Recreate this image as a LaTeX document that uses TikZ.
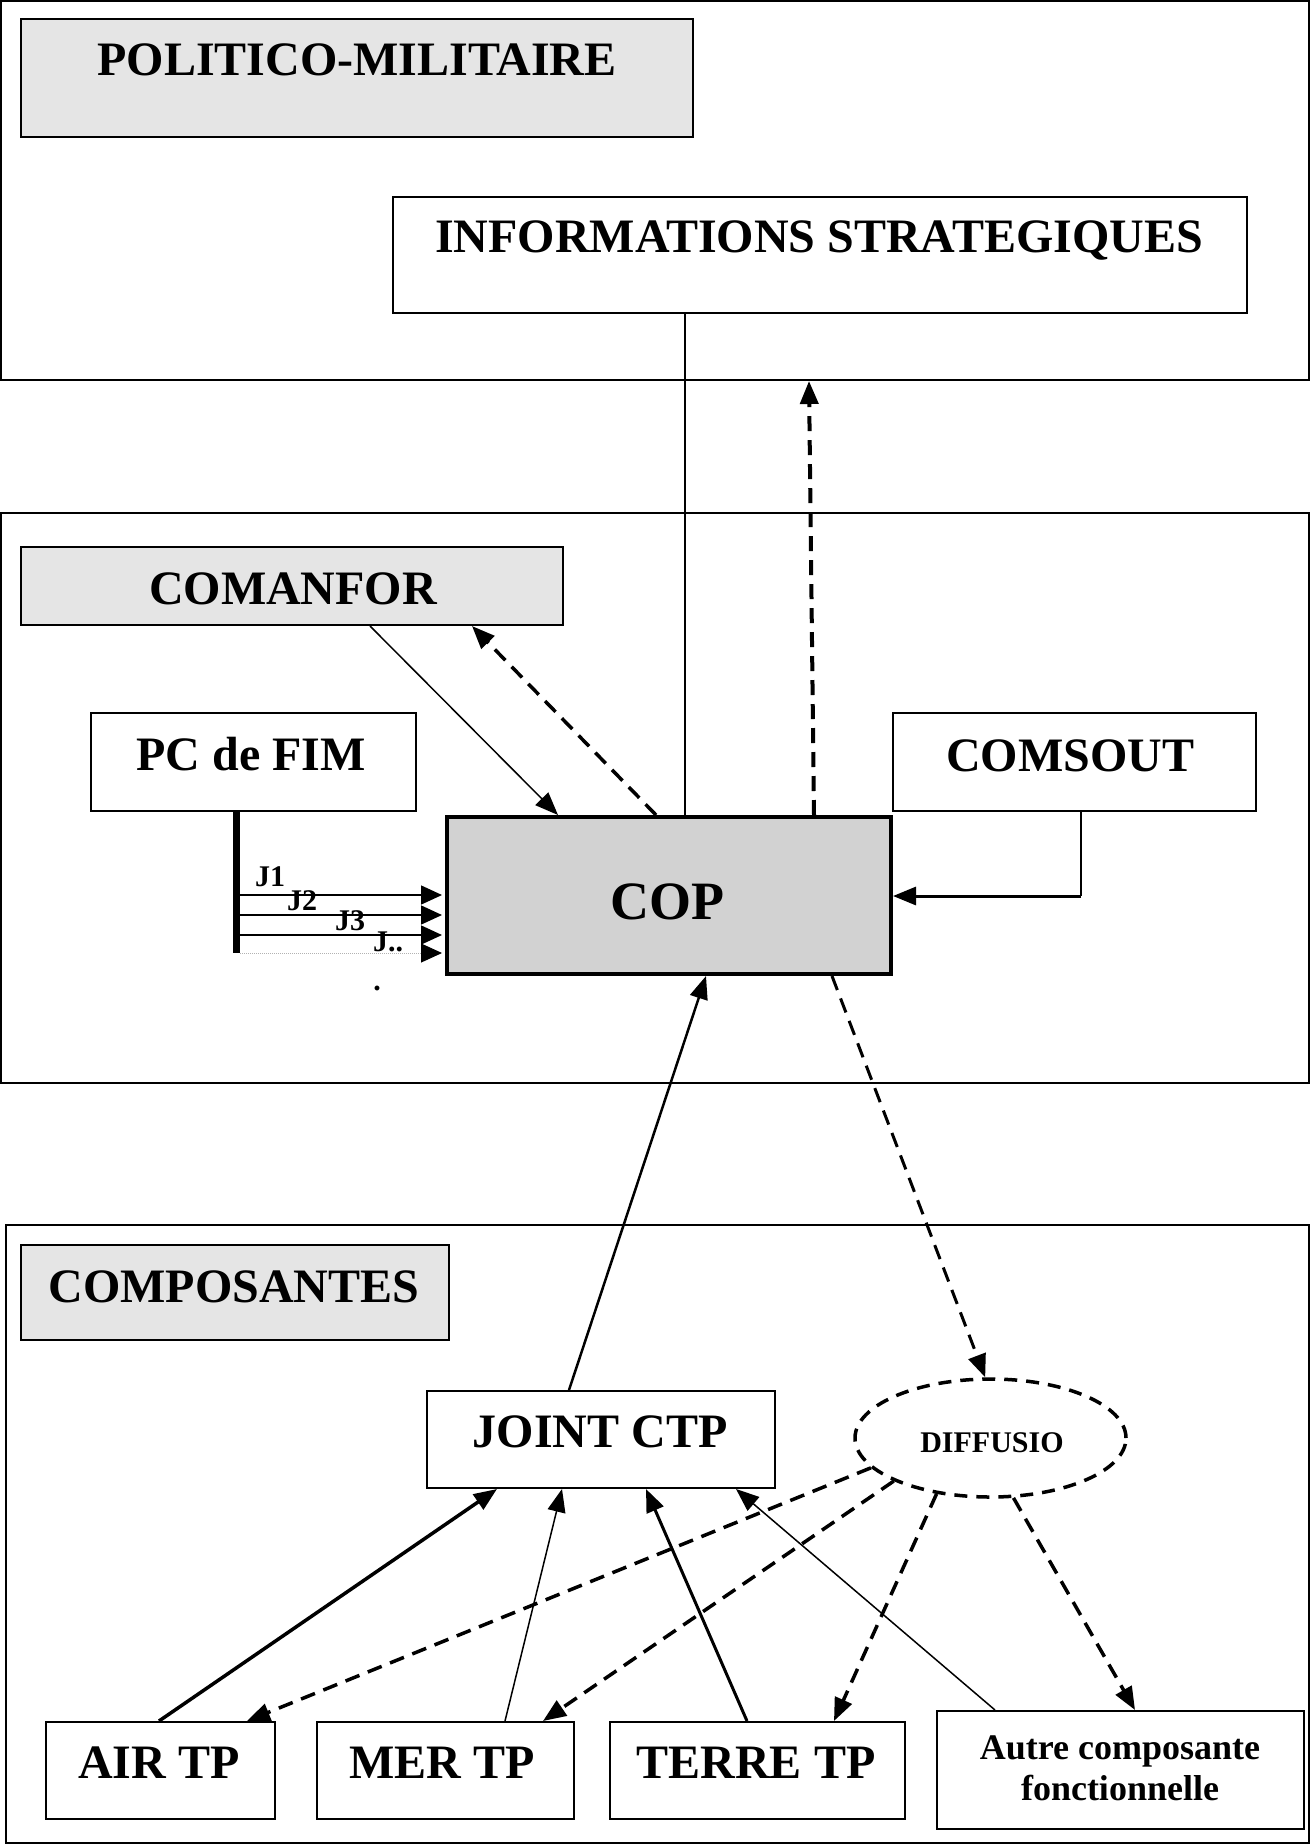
\documentclass[tikz,border=0pt]{standalone}
\usepackage{fontspec}
\setmainfont{Liberation Serif}
\usetikzlibrary{arrows.meta,shapes.geometric,fit}
\begin{document}
\begin{tikzpicture}[x=1pt,y=-1pt,
  >={Triangle[length=23pt,width=18pt]},
  region/.style={draw, line width=2pt, inner sep=0pt},
  box/.style={draw, line width=2pt, inner sep=0pt},
  hdr/.style={box, fill=gray!20},
  big/.style={font=\fontsize{48}{48}\selectfont\bfseries, anchor=base, inner sep=0pt},
  mid/.style={font=\fontsize{36}{36}\selectfont\bfseries, anchor=base, inner sep=0pt},
  small/.style={font=\fontsize{30}{30}\selectfont\bfseries, anchor=base, inner sep=0pt},
  jlab/.style={small, anchor=base west},
  dashline/.style={dash pattern=on 15pt off 9pt},
  thinline/.style={line width=1.5pt},
  jtip/.style={-{Triangle[length=21pt,width=19pt]}}
]
\useasboundingbox (0,0) rectangle (1311,1845);

% regions
\node[region, fit={(1,1) (1309,380)}] (polreg) {};
\node[region, fit={(1,513) (1309,1083)}] (comreg) {};
\node[region, fit={(6,1225) (1309,1843)}] (compreg) {};

% boxes
\node[hdr, fit={(21,19) (693,137)}] (polit) {};
\node[box, fit={(393,197) (1247,313)}] (info) {};
\node[hdr, fit={(21,547) (563,625)}] (comanfor) {};
\node[box, fit={(91,713) (416,811)}] (pcfim) {};
\node[box, fit={(893,713) (1256,811)}] (comsout) {};
\node[draw, line width=4pt, inner sep=0pt, fill=gray!35, fit={(447,817) (891,974)}] (cop) {};
\node[hdr, fit={(21,1245) (449,1340)}] (compos) {};
\node[box, fit={(427,1391) (775,1488)}] (joint) {};
\node[draw, ellipse, line width=3.5pt, dash pattern=on 13pt off 9pt, minimum width=271pt, minimum height=118pt, inner sep=0pt] (diff) at (990.5,1438) {};
\node[box, fit={(46,1722) (275,1819)}] (air) {};
\node[box, fit={(317,1722) (574,1819)}] (mer) {};
\node[box, fit={(610,1722) (905,1819)}] (terre) {};
\node[box, fit={(937,1711) (1304,1829)}] (autre) {};

% texts
\node[big] (poltxt) at (357,75) {POLITICO-MILITAIRE};
\node[big] (infotxt) at (819,252) {INFORMATIONS STRATEGIQUES};
\node[big] (comtxt) at (293,604) {COMANFOR};
\node[big] (pctxt) at (251,770) {PC de FIM};
\node[big] (cstxt) at (1070,771) {COMSOUT};
\node[big, font=\fontsize{54}{54}\selectfont\bfseries] (coptxt) at (667,919) {COP};
\node[big] (comptxt) at (234,1302) {COMPOSANTES};
\node[big] (jtxt) at (600,1447) {JOINT CTP};
\node[small] (difftxt) at (992,1452) {DIFFUSIO};
\node[big] (airtxt) at (159,1778) {AIR TP};
\node[big] (mertxt) at (442,1778) {MER TP};
\node[big] (terretxt) at (756,1778) {TERRE TP};
\node[mid] (autretxta) at (1120,1759) {Autre composante};
\node[mid] (autretxtb) at (1120,1800) {fonctionnelle};

% J labels
\node[jlab] (j1) at (255,886) {J1};
\node[jlab] (j2) at (287,910) {J2};
\node[jlab] (j3) at (335,930) {J3};
\node[jlab] (jn) at (373,951) {J..};
\node[small] (jdot) at (377,990) {.};

% PC de FIM bar and J arrows
\coordinate (barbot) at (236.5,953);
\draw[line width=7pt] (pcfim.south -| 236.5,0) -- (barbot);
\coordinate (j1s) at (240,895);
\coordinate (j2s) at (240,915);
\coordinate (j3s) at (240,935);
\coordinate (jns) at (240,953);
\draw[thinline, jtip, shorten >=3pt] (j1s) -- (cop.west |- j1s);
\draw[thinline, jtip, shorten >=3pt] (j2s) -- (cop.west |- j2s);
\draw[thinline, jtip, shorten >=3pt] (j3s) -- (cop.west |- j3s);
\draw[line width=1pt, gray!60, densely dotted, -{Triangle[length=21pt,width=19pt,black]}, shorten >=3pt] (jns) -- (cop.west |- jns);

% upper connectors
\draw[thinline] (info.south -| 685,0) -- (cop.north -| 685,0);
\draw[dashline, line width=4pt, ->] (cop.north -| 814,0) -- (polreg.south -| 809,0);
\draw[thinline, ->] (comanfor.south -| 370,0) -- (cop.north -| 558,0);
\draw[dashline, line width=3.5pt, ->] (cop.north -| 656,0) -- (comanfor.south -| 472,0);

% COMSOUT to COP
\coordinate (cs) at (1081,896);
\draw[thinline] (comsout.south -| cs) -- (cs);
\draw[line width=3pt, ->] (cs) -- (cop.east |- cs);

% COP <-> lower
\draw[line width=2.5pt, ->] (joint.north -| 569,0) -- (cop.south -| 706,0);
\draw[dashline, line width=3pt, ->] (cop.south -| 832,0) -- (diff.95);

% components to JOINT CTP
\draw[line width=3.5pt, ->] (air.north -| 159,0) -- (joint.south -| 497,0);
\draw[thinline, ->] (mer.north -| 505,0) -- (joint.south -| 562,0);
\draw[line width=3pt, ->] (terre.north -| 747,0) -- (joint.south -| 646,0);
\draw[thinline, ->] (autre.north -| 995,0) -- (joint.south -| 736,0);

% DIFFUSIO to components
\draw[dashline, line width=3.5pt, ->] (diff.194) -- (air.north -| 247,0);
\draw[dashline, line width=3.5pt, ->] (diff.204) -- (mer.north -| 543,0);
\draw[dashline, line width=3.5pt, ->] (diff.226) -- (terre.north -| 834,0);
\draw[dashline, line width=3.5pt, ->] (diff.291) -- (autre.north -| 1135,0);
\end{tikzpicture}
\end{document}
